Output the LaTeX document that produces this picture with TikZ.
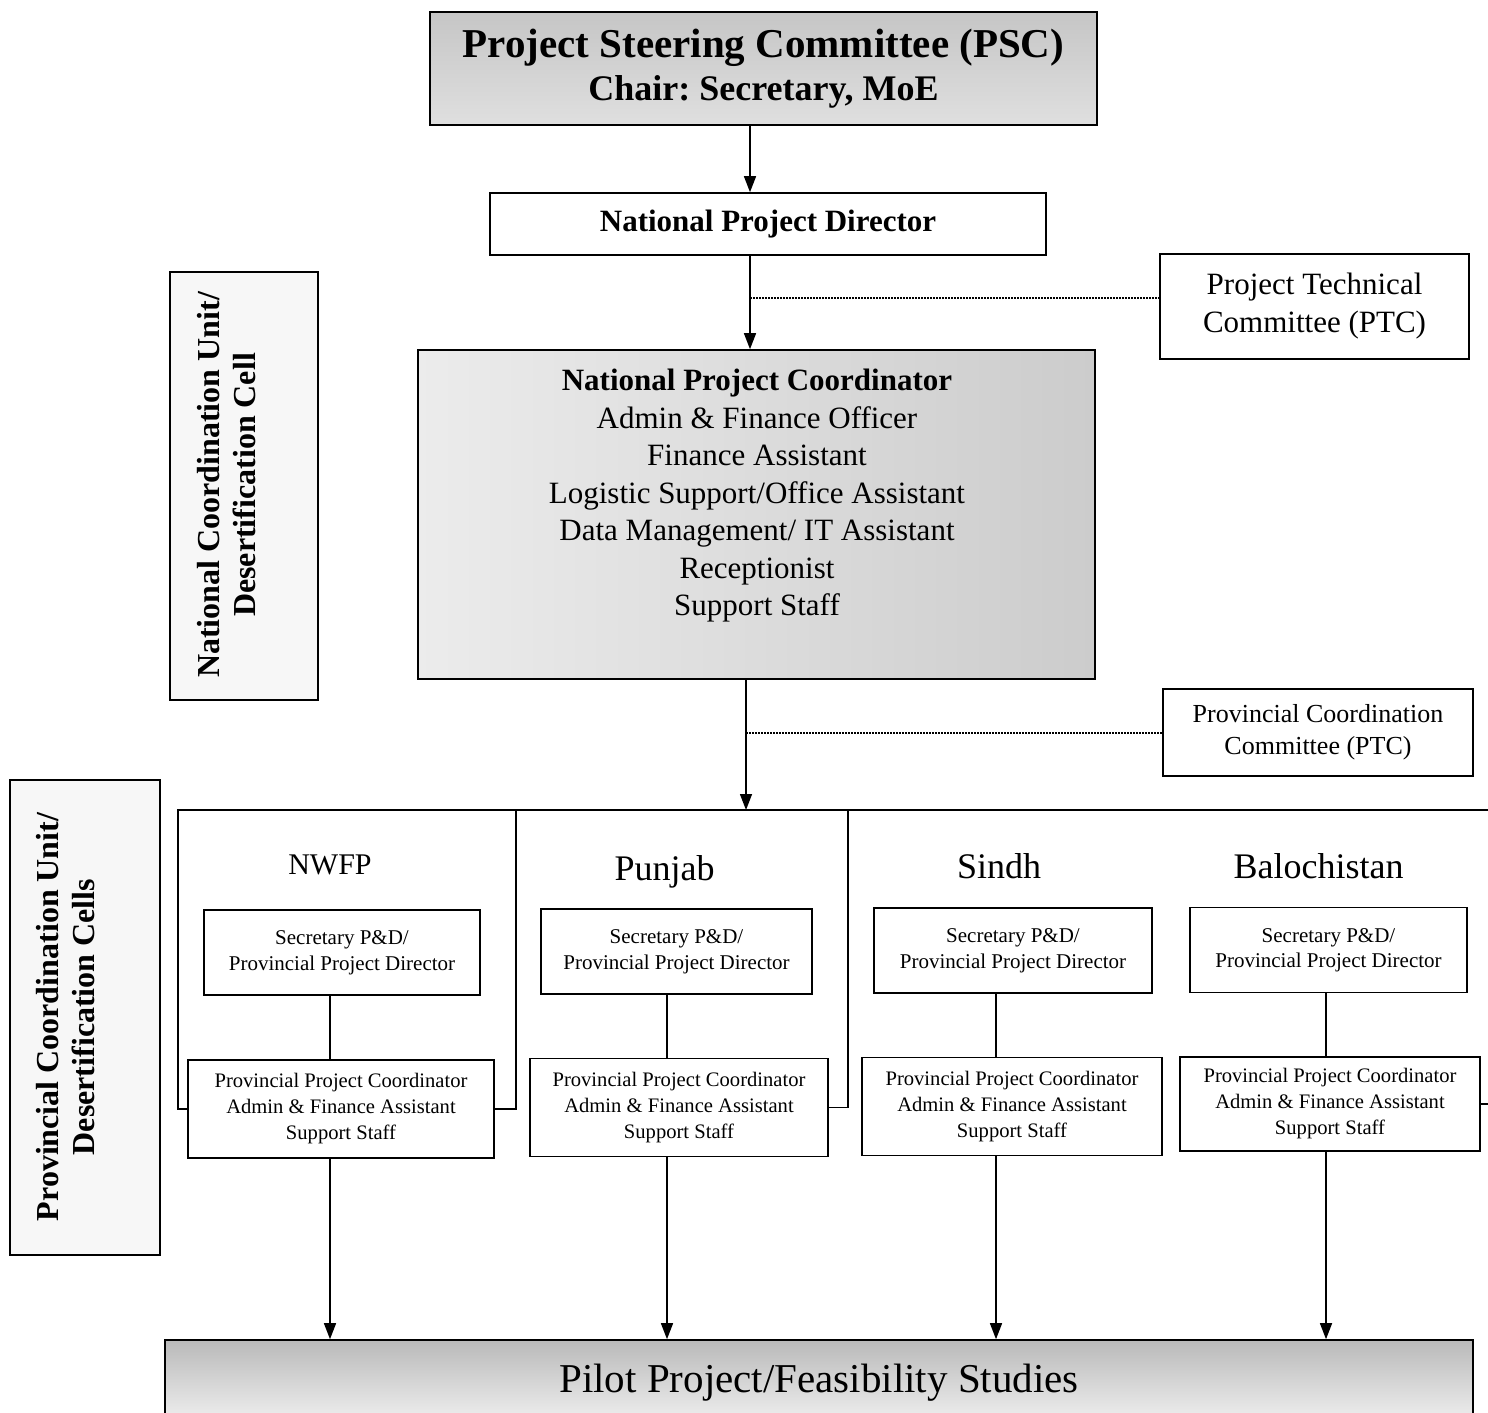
\documentclass[tikz,border=0pt]{standalone}
\usepackage{fontspec}
\setmainfont{Liberation Serif}
\usetikzlibrary{arrows.meta}

\begin{document}
\begin{tikzpicture}[x=1pt,y=-1pt,
box/.style={draw,line width=1.6pt,align=center,inner sep=0pt},
secbox/.style={box,minimum height=85pt,font=\fontsize{21}{25.5}\selectfont},
ppcbox/.style={box,minimum height=98pt,font=\fontsize{20.6}{26}\selectfont},
side/.style={draw,line width=1.6pt,fill=gray!6},
sidetext/.style={rotate=90,align=center,font=\fontsize{32}{36}\selectfont\bfseries},
province/.style={font=\fontsize{36}{36}\selectfont},
arr/.style={line width=1.4pt,-{Triangle[length=16pt,width=12pt]}},
link/.style={line width=1.4pt},
dots/.style={line width=2pt,dash pattern=on 1.5pt off 1.5pt}]
\useasboundingbox (0,0) rectangle (1488,1413);
\coordinate (axis) at (750,0);
\coordinate (drop) at (746,810);
\coordinate (barL) at (178,810);
\coordinate (barR) at (1490,810);
\coordinate (gap1) at (516,810);
\coordinate (gap2) at (848,810);
\coordinate (col1) at (330,0);
\coordinate (col2) at (667,0);
\coordinate (col3) at (996,0);
\coordinate (col4) at (1326,0);
\node[box,top color=gray!45,bottom color=gray!25,minimum width=667pt,minimum height=113pt] (psc) at (763.5,68.5) {\frenchspacing\fontsize{41}{43}\selectfont\bfseries Project Steering Committee (PSC)\\[8pt]\fontsize{36}{43}\selectfont\bfseries\frenchspacing Chair: Secretary, MoE};
\node[box,minimum width=556pt,minimum height=62pt,font=\fontsize{31}{36}\selectfont\bfseries] (npd) at (768,224) {National Project Director};
\node[box,minimum width=309pt,minimum height=105pt,font=\fontsize{31}{38}\selectfont] (ptc) at (1314.5,306.5) {Project Technical\\Committee (PTC)};
\node[box,left color=gray!15,right color=gray!40,minimum width=677pt,minimum height=329pt] (npc) at (756.5,514.5) {};
\node[align=center,font=\fontsize{31}{37.5}\selectfont] (npcstaff) at (757,496) {\textbf{National Project Coordinator}\\Admin \& Finance Officer\\Finance Assistant\\Logistic Support/Office Assistant\\Data Management/ IT Assistant\\Receptionist\\Support Staff};
\node[side,minimum width=148pt,minimum height=428pt] (ncu) at (244,486) {};
\node[sidetext] (ncutext) at (227,485) {National Coordination Unit/\\Desertification Cell};
\node[side,minimum width=150pt,minimum height=475pt] (pcu) at (85,1017.5) {};
\node[sidetext] (pcutext) at (66,1017) {Provincial Coordination Unit/\\Desertification Cells};
\node[box,minimum width=310pt,minimum height=87pt,font=\fontsize{26}{32}\selectfont] (pcc) at (1318,732.5) {Provincial Coordination\\Committee (PTC)};
\node[font=\fontsize{30}{30}\selectfont] (nwfp) at (330,865) {NWFP};
\node[province] (punjab) at (664.5,872) {Punjab};
\node[province] (sindh) at (999,866) {Sindh};
\node[province] (baloch) at (1318.5,866) {Balochistan};
\node[secbox,minimum width=276pt] (s1) at (342,952.5) {Secretary P\&D/\\Provincial Project Director};
\node[secbox,minimum width=271pt] (s2) at (676.5,951.5) {Secretary P\&D/\\Provincial Project Director};
\node[secbox,minimum width=278pt] (s3) at (1013,950.5) {Secretary P\&D/\\Provincial Project Director};
\node[secbox,minimum width=277pt] (s4) at (1328.5,950) {Secretary P\&D/\\Provincial Project Director};
\node[ppcbox,minimum width=306pt] (c1) at (341,1109) {Provincial Project Coordinator\\Admin \& Finance Assistant\\Support Staff};
\node[ppcbox,minimum width=298pt] (c2) at (679,1107.5) {Provincial Project Coordinator\\Admin \& Finance Assistant\\Support Staff};
\node[ppcbox,minimum width=300pt] (c3) at (1012,1106.5) {Provincial Project Coordinator\\Admin \& Finance Assistant\\Support Staff};
\node[ppcbox,minimum width=300pt,minimum height=94pt] (c4) at (1330,1104) {Provincial Project Coordinator\\Admin \& Finance Assistant\\Support Staff};
\node[box,top color=gray!55,bottom color=gray!10,minimum width=1308pt,minimum height=86pt,font=\fontsize{41}{41}\selectfont] (pilot) at (819,1383) {Pilot Project/Feasibility Studies};
\draw[arr] (psc.south -| axis) -- (npd.north -| axis);
\draw[arr] (npd.south -| axis) -- (npc.north -| axis);
\draw[dots] (ptc.177 -| axis) -- (ptc.177);
\draw[arr] (npc.south -| drop) -- (drop);
\draw[dots] (drop |- pcc.west) -- (pcc.west);
\draw[link] (c1.west) -| (barL) -- (barR);
\draw[link] (c1.east) -| (gap1);
\draw[link] (c2.east) -| (gap2);
\draw[link] (c4.east) -- (c4.east -| barR);
\draw[link] (s1.south -| col1) -- (c1.north -| col1);
\draw[link] (s2.south -| col2) -- (c2.north -| col2);
\draw[link] (s3.south -| col3) -- (c3.north -| col3);
\draw[link] (s4.south -| col4) -- (c4.north -| col4);
\draw[arr] (c1.south -| col1) -- (pilot.north -| col1);
\draw[arr] (c2.south -| col2) -- (pilot.north -| col2);
\draw[arr] (c3.south -| col3) -- (pilot.north -| col3);
\draw[arr] (c4.south -| col4) -- (pilot.north -| col4);
\end{tikzpicture}
\end{document}
